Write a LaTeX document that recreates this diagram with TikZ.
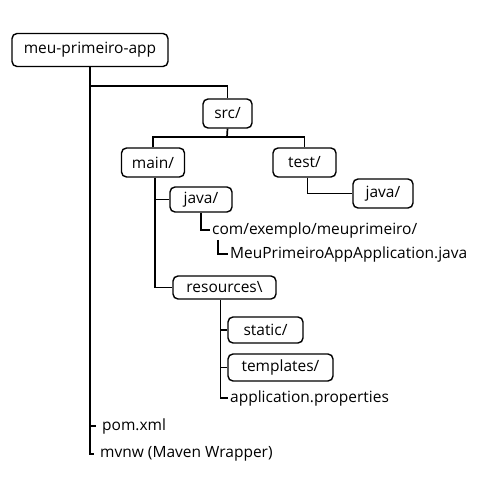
\documentclass[tikz,border=0pt]{standalone}
\usepackage{fontspec}
\setmainfont{Open Sans}
\begin{document}
\begin{tikzpicture}[x=1pt,y=-1pt,
  box/.style={draw, line width=1.4pt, rounded corners=5pt, inner sep=0pt, font=\fontsize{15.5}{17}\selectfont},
  lbl/.style={anchor=west, inner xsep=2pt, inner ysep=0pt, font=\fontsize{15.5}{17}\selectfont},
  wire/.style={line width=1.7pt}]
\useasboundingbox (0,0) rectangle (489,496);
\node[box, minimum width=156pt, minimum height=33pt] (root) at (90,50) {meu-primeiro-app};
\node[box, minimum width=49pt, minimum height=29pt] (src) at (227.5,113.5) {src/};
\node[box, minimum width=63pt, minimum height=29pt] (main) at (153,162.5) {main/};
\node[box, minimum width=63pt, minimum height=29pt] (test) at (304.5,162.5) {test/};
\node[box, minimum width=60pt, minimum height=29pt] (tjava) at (383,193.5) {java/};
\node[box, minimum width=62pt, minimum height=25pt] (mjava) at (201,199.5) {java/};
\node[lbl] (com) at (210,230) {com/exemplo/meuprimeiro/};
\node[lbl] (meu) at (228,254) {MeuPrimeiroAppApplication.java};
\node[box, minimum width=103pt, minimum height=23pt] (res) at (224.5,287.5) {resources\textbackslash};
\node[box, minimum width=75pt, minimum height=26pt] (static) at (265.5,330) {static/};
\node[box, minimum width=105pt, minimum height=27pt] (tmpl) at (280.5,367.5) {templates/};
\node[lbl] (app) at (228,398) {application.properties};
\node[lbl, inner xsep=6pt] (pom) at (96,426) {pom.xml};
\node[lbl, inner xsep=6pt] (mvnw) at (94,454) {mvnw (Maven Wrapper)};
\coordinate (j1) at (90,86);
\coordinate (j2) at (227,137);
% trunk
\draw[wire] (root.south) -- (root.south |- mvnw.west) -- (mvnw.west);
\draw[wire] (root.south |- pom.west) -- (pom.west);
\draw[wire] (j1) -| (src.north);
% src
\draw[wire] (src.south) -- (j2);
\draw[wire] (main.north) -- (main.north |- j2) -- (test.north |- j2) -- (test.north);
% main
\draw[wire] ([xshift=2pt]main.south) |- (res.west);
\draw[wire] ([xshift=2pt]main.south |- mjava.west) -- (mjava.west);
% test
\draw[wire] ([xshift=3pt]test.south) |- (tjava.west);
% java
\draw[wire] (mjava.south) |- (com.west);
\draw[wire] ([xshift=8pt,yshift=-2pt]com.south west) |- (meu.west);
% resources
\draw[wire] ([xshift=-4pt]res.south) |- (app.west);
\draw[wire] ([xshift=-4pt]res.south |- static.west) -- (static.west);
\draw[wire] ([xshift=-4pt]res.south |- tmpl.west) -- (tmpl.west);
\end{tikzpicture}
\end{document}
